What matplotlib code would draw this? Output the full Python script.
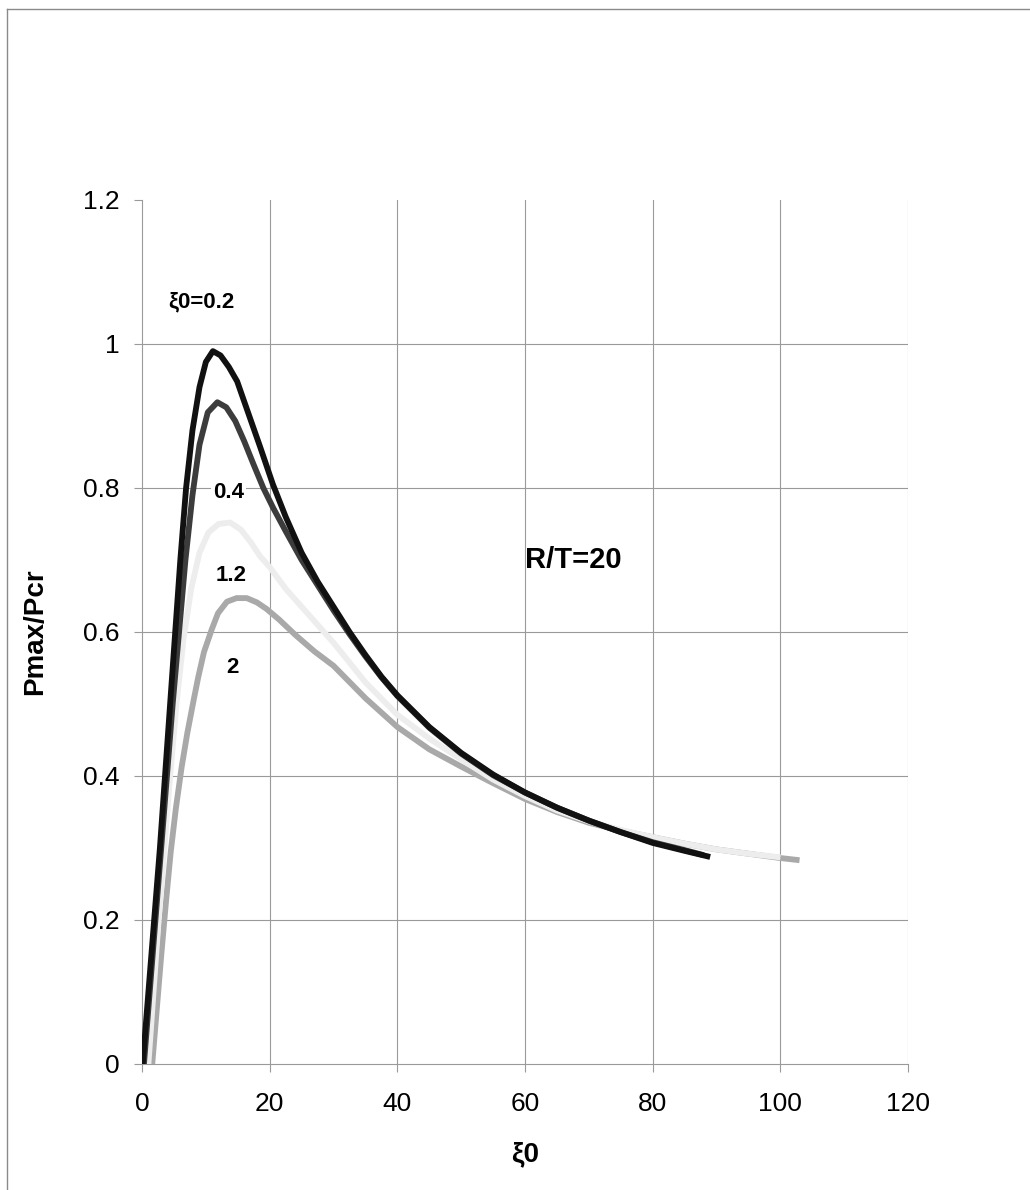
import matplotlib
matplotlib.use("Agg")
import matplotlib.pyplot as plt
from matplotlib.lines import Line2D

plt.rcParams['font.family'] = ['Liberation Sans', 'DejaVu Sans']

# xi0 = 0.2 (black)
x_02 = [0.1, 1.0, 1.9, 2.8, 3.6, 4.4, 5.2, 6.0, 6.9, 7.9, 9.0, 10.0, 11.1, 12.3, 13.6, 14.9,
        16.6, 18.5, 20.5, 22.5, 25, 27.5, 30, 32.5, 35, 37.5, 40, 45, 50, 55, 60, 65, 70, 75, 80, 85, 89]
y_02 = [0.0, 0.10, 0.20, 0.30, 0.40, 0.50, 0.60, 0.70, 0.80, 0.88, 0.94, 0.975, 0.99, 0.984, 0.968, 0.948,
        0.905, 0.857, 0.805, 0.76, 0.71, 0.67, 0.635, 0.60, 0.568, 0.538, 0.512, 0.468, 0.432, 0.402, 0.377,
        0.356, 0.338, 0.322, 0.307, 0.296, 0.2875]

# xi0 = 0.4 (dark grey)
x_04 = [0.3, 1.2, 2.1, 3.0, 3.9, 4.8, 5.8, 6.8, 7.9, 9.0, 10.3, 11.8, 13.2, 14.6, 16, 17.5, 19, 20.5,
        22.5, 25, 27.5, 30, 32.5, 35, 37.5, 40, 45, 50, 55, 60, 65, 70, 75, 80, 85, 88]
y_04 = [0.0, 0.10, 0.20, 0.30, 0.40, 0.50, 0.60, 0.70, 0.79, 0.86, 0.905, 0.919, 0.912, 0.893, 0.865,
        0.832, 0.80, 0.773, 0.74, 0.70, 0.665, 0.63, 0.597, 0.566, 0.537, 0.511, 0.467, 0.431, 0.401,
        0.377, 0.356, 0.338, 0.322, 0.308, 0.297, 0.29]

# xi0 = 1.2 (very light grey)
x_12 = [1.0, 1.8, 2.6, 3.5, 4.4, 5.4, 6.5, 7.7, 9.0, 10.4, 12, 13.8, 15.5, 17, 18.5, 20, 22.5, 25,
        27.5, 30, 35, 40, 45, 50, 55, 60, 65, 70, 75, 80, 85, 90, 95, 100]
y_12 = [0.0, 0.10, 0.20, 0.30, 0.40, 0.50, 0.59, 0.66, 0.71, 0.738, 0.75, 0.752, 0.742, 0.725, 0.705,
        0.69, 0.66, 0.635, 0.61, 0.585, 0.53, 0.485, 0.452, 0.423, 0.395, 0.372, 0.352, 0.337, 0.325,
        0.315, 0.306, 0.298, 0.292, 0.287]

# xi0 = 2 (medium grey)
x_2 = [1.6, 2.3, 3.0, 3.8, 4.5, 5.3, 6.2, 7.1, 8.1, 8.8, 9.7, 10.9, 11.9, 13.3, 14.8, 16.4, 18,
       19.5, 21.5, 24, 27, 30, 35, 40, 45, 50, 55, 60, 65, 70, 75, 80, 85, 90, 95, 100, 103]
y_2 = [0.0, 0.075, 0.15, 0.23, 0.295, 0.355, 0.412, 0.46, 0.506, 0.537, 0.572, 0.603, 0.626, 0.642,
       0.647, 0.647, 0.641, 0.632, 0.617, 0.596, 0.573, 0.553, 0.508, 0.468, 0.437, 0.413, 0.39, 0.368,
       0.35, 0.335, 0.324, 0.315, 0.306, 0.298, 0.292, 0.286, 0.283]

x_ticks = [0, 20, 40, 60, 80, 100, 120]
y_ticks = [0, 0.2, 0.4, 0.6, 0.8, 1, 1.2]
y_tick_labels = ['0', '0.2', '0.4', '0.6', '0.8', '1', '1.2']

fig = plt.figure(figsize=(10.3, 11.9), dpi=100)
ax = fig.add_axes([0.1379, 0.1059, 0.7437, 0.7261])

grid_col = '#9a9a9a'
style = dict(lw=4.2, solid_capstyle='butt', solid_joinstyle='round')
ax.plot(x_2, y_2, color='#a9a9a9', zorder=3, **style)
ax.plot(x_12, y_12, color='#ededed', zorder=3, **style)
ax.plot(x_04, y_04, color='#3c3c3c', zorder=4, **style)
ax.plot(x_02, y_02, color='#111111', zorder=5, **style)

ax.set_xlim(0, 120)
ax.set_ylim(0, 1.2)
ax.set_xticks(x_ticks)
ax.set_yticks(y_ticks)
ax.set_yticklabels(y_tick_labels)

ax.grid(True, color=grid_col, lw=0.8)
# no grid on the axis lines themselves or along the top
ax.xaxis.get_gridlines()[0].set_visible(False)
ax.yaxis.get_gridlines()[0].set_visible(False)
ax.yaxis.get_gridlines()[-1].set_visible(False)
ax.set_axisbelow(True)

for s in ['top', 'right']:
    ax.spines[s].set_visible(False)
for s in ['left', 'bottom']:
    ax.spines[s].set_color(grid_col)
    ax.spines[s].set_linewidth(0.8)

ax.tick_params(axis='both', direction='out', length=6, width=0.8, color=grid_col, labelsize=19)
ax.tick_params(axis='x', pad=14)
ax.tick_params(axis='y', pad=10)

ax.set_ylabel('Pmax/Pcr', fontsize=20, fontweight='bold')
ax.yaxis.set_label_coords(-0.123, 0.5)
ax.set_xlabel('ξ0', fontsize=20, fontweight='bold')
ax.xaxis.set_label_coords(0.5, -0.105)
ax.xaxis.label.set_va('center')

box = dict(facecolor='white', edgecolor='none', pad=1.5)
ax.text(9.24, 1.058, 'ξ0=0.2', fontsize=16, fontweight='bold', ha='center', va='center')
ax.text(13.5, 0.794, '0.4', fontsize=16, fontweight='bold', ha='center', va='center', bbox=box, zorder=2)
ax.text(13.9, 0.679, '1.2', fontsize=16, fontweight='bold', ha='center', va='center', bbox=box, zorder=2)
ax.text(14.1, 0.551, '2', fontsize=16, fontweight='bold', ha='center', va='center', bbox=box, zorder=2)
ax.text(60, 0.70, 'R/T=20', fontsize=21, fontweight='bold', ha='left', va='center')

# scanned page frame
fig.add_artist(Line2D([7 / 1030, 7 / 1030], [0, 1 - 9 / 1190], color='#8a8a8a', lw=1))
fig.add_artist(Line2D([7 / 1030, 1], [1 - 9 / 1190, 1 - 9 / 1190], color='#8a8a8a', lw=1))

fig.savefig('out.png', dpi=100, facecolor='white')
